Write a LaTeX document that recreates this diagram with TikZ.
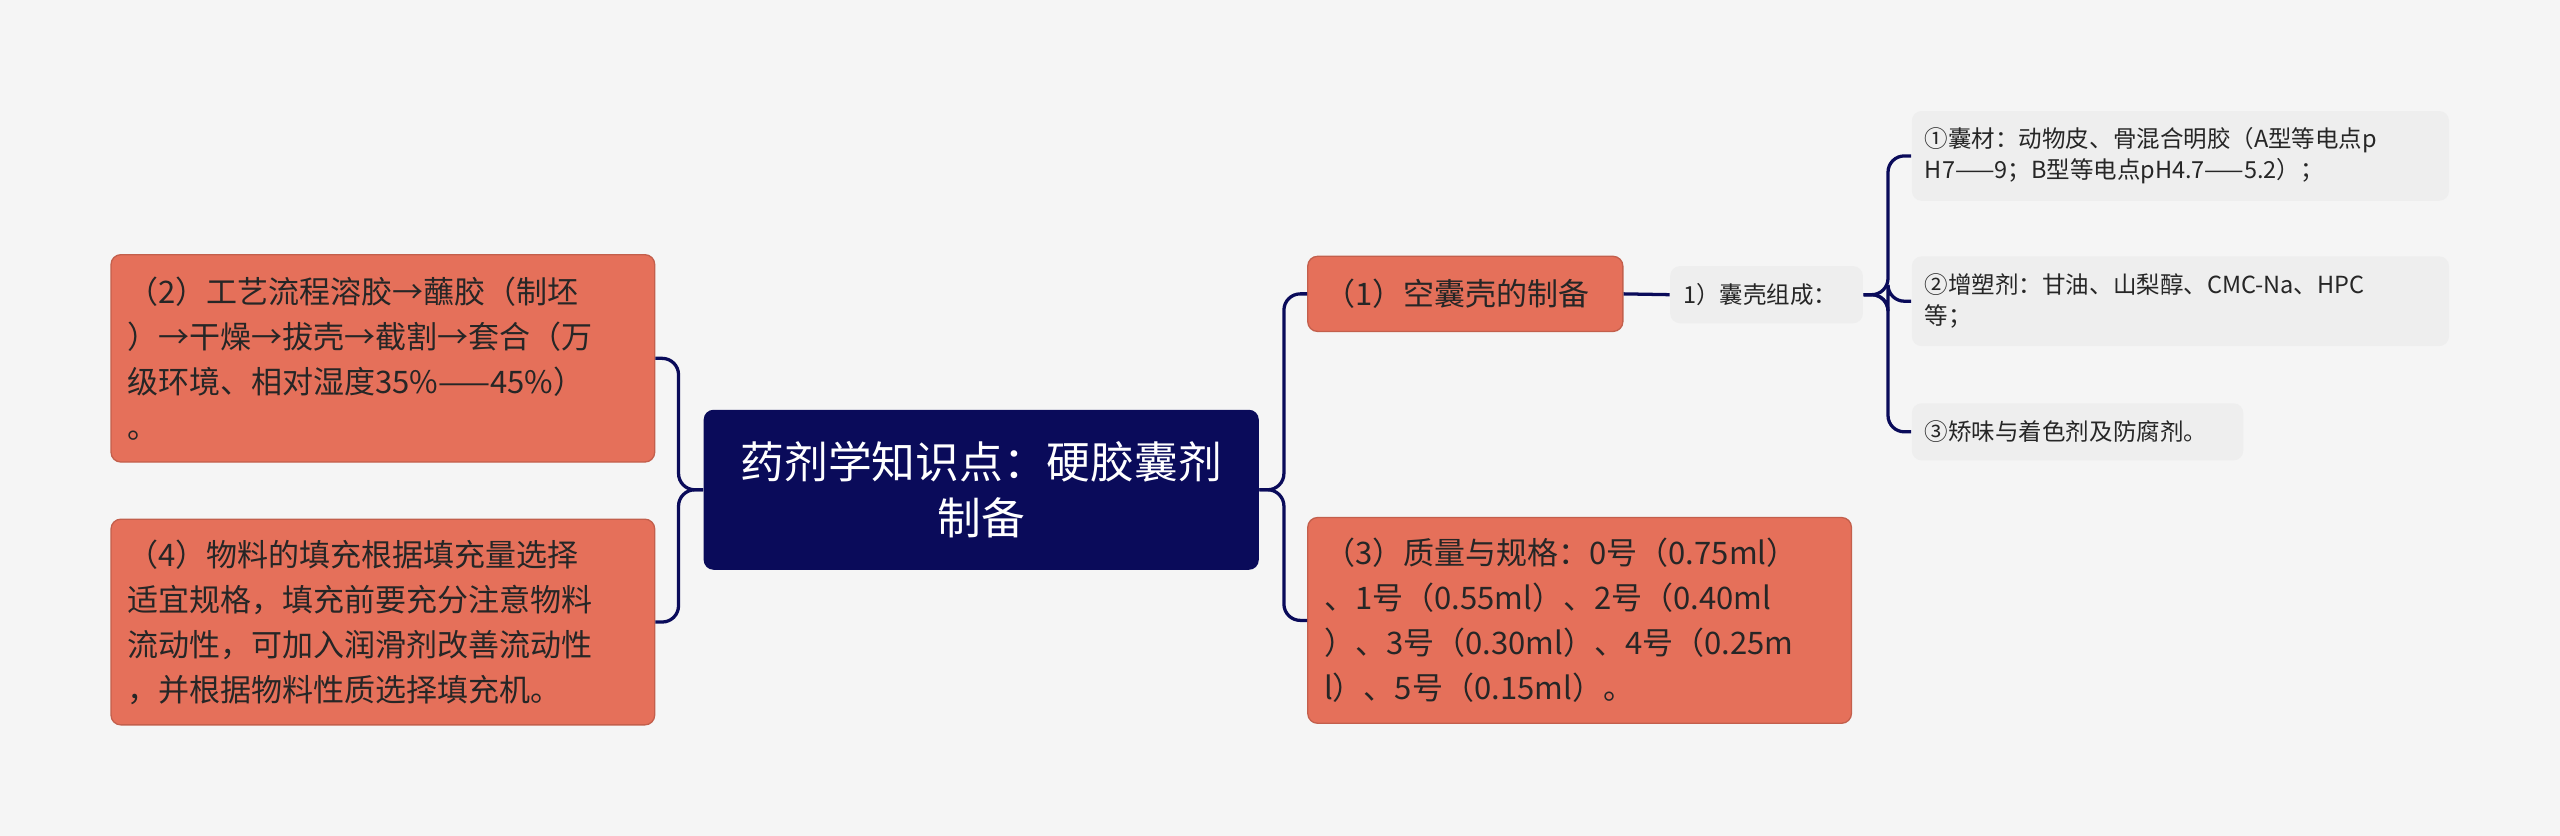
\documentclass[tikz,border=0pt]{standalone}
\usepackage{fontspec}
\setmainfont{Noto Sans CJK SC}
\definecolor{bg}{HTML}{F5F5F5}
\definecolor{navy}{HTML}{0A0B5A}
\definecolor{org}{HTML}{E5705A}
\definecolor{leaf}{HTML}{EEEEEE}
\begin{document}
\begin{tikzpicture}[x=1pt,y=1pt,
 box/.style={fill=org,draw=org!85!black,line width=0.4pt,rounded corners=3pt,align=left,inner xsep=5pt,inner ysep=2pt,text=black!85,font=\fontsize{9.5}{13.75}\selectfont},
 lf/.style={fill=leaf,rounded corners=3pt,align=left,inner xsep=4pt,inner ysep=1pt,text=black!85,font=\fontsize{7.2}{9.5}\selectfont},
 cn/.style={draw=navy,line width=1pt,rounded corners=5pt}]
\fill[bg] (0,0) rectangle (784,-256);
\useasboundingbox (0,0) rectangle (784,-256);
\node[fill=navy,rounded corners=3pt,text=white,align=center,minimum width=170pt,minimum height=49pt,font=\fontsize{13.4}{17}\selectfont] (c) at (300.5,-150) {药剂学知识点：硬胶囊剂\\制备};
\node[box,minimum width=166.5pt,minimum height=63.5pt,text width=156.5pt] (l1) at (117.25,-109.75) {（2）工艺流程溶胶→蘸胶（制坯\\）→干燥→拔壳→截割→套合（万\\级环境、相对湿度35\%——45\%）\\。};
\node[box,minimum width=166.5pt,minimum height=63pt,text width=156.5pt] (l2) at (117.25,-190.5) {（4）物料的填充根据填充量选择\\适宜规格，填充前要充分注意物料\\流动性，可加入润滑剂改善流动性\\，并根据物料性质选择填充机。};
\node[box,minimum width=96.5pt,minimum height=23pt,text width=86.5pt] (r1) at (448.75,-90) {（1）空囊壳的制备};
\node[box,minimum width=166.5pt,minimum height=63pt,text width=156.5pt] (r3) at (483.75,-190) {（3）质量与规格：0号（0.75ml）\\、1号（0.55ml）、2号（0.40ml\\）、3号（0.30ml）、4号（0.25m\\l）、5号（0.15ml）。};
\node[lf,minimum width=59pt,minimum height=17.5pt,text width=51pt] (s) at (541,-90.25) {1）囊壳组成：};
\node[lf,minimum width=164.5pt,minimum height=27.5pt,text width=156.5pt] (a) at (667.75,-47.75) {①囊材：动物皮、骨混合明胶（A型等电点p\\H7——9；B型等电点pH4.7——5.2）；};
\node[lf,minimum width=164.5pt,minimum height=27.5pt,text width=156.5pt] (b) at (667.75,-92.25) {②增塑剂：甘油、山梨醇、CMC-Na、HPC\\等；};
\node[lf,minimum width=101.5pt,minimum height=17.5pt,text width=93.5pt] (d) at (636.25,-132.25) {③矫味与着色剂及防腐剂。};
\coordinate (cr) at ([xshift=7.5pt]c.east);
\coordinate (cl) at ([xshift=-7.5pt]c.west);
\coordinate (sr) at ([xshift=7.5pt]s.east);
\draw[cn] (c.east) -- (cr) |- (r1.west);
\draw[cn] (c.east) -- (cr) |- (r3.west);
\draw[cn] (c.west) -- (cl) |- (l1.east);
\draw[cn] (c.west) -- (cl) |- (l2.east);
\draw[cn] (r1.east) -- (s.west);
\draw[cn] (s.east) -- (sr) |- (a.west);
\draw[cn] (s.east) -- (sr) |- (b.west);
\draw[cn] (s.east) -- (sr) |- (d.west);
\end{tikzpicture}
\end{document}
